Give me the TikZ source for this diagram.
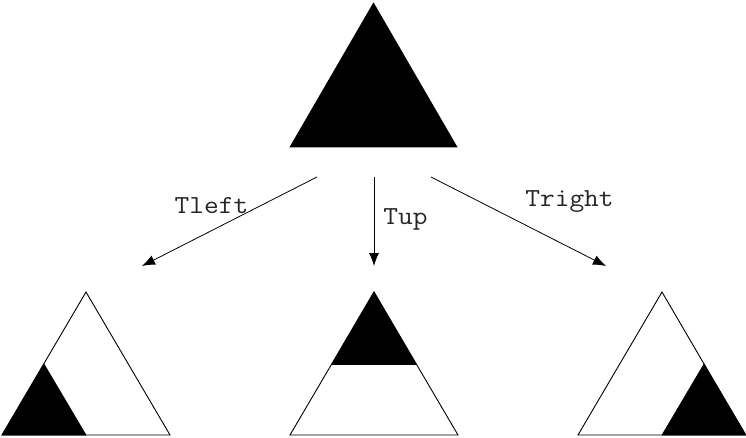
\documentclass[tikz,border=0pt]{standalone}
\usepackage{fontspec}
\usetikzlibrary{arrows.meta}
\newcommand{\mylbl}[1]{\scalebox{1.1}[1]{#1}}
\begin{document}
\begin{tikzpicture}[x=1pt,y=-1pt,
  tri/.style={draw=black,line width=0.9pt,line join=miter},
  blk/.style={fill=black,draw=black,line width=0.6pt},
  conn/.style={line width=0.8pt,-{Latex[length=13pt,width=10pt]}},
  lbl/.style={font=\ttfamily\fontsize{26}{26}\selectfont,anchor=base,inner sep=0pt,text=black!85}]
\useasboundingbox (0,0) rectangle (746,438);
% top triangle
\fill[blk] (373.5,3) -- (457,147) -- (290,147) -- cycle;
% left bottom
\fill[blk] (44,364) -- (86,435) -- (2,435) -- cycle;
\draw[tri] (86,292) -- (170,435) -- (2,435) -- cycle;
% middle bottom
\fill[blk] (374,292) -- (416,364) -- (332,364) -- cycle;
\draw[tri] (374,292) -- (458,435) -- (290,435) -- cycle;
\draw[tri] (332,364) -- (416,364);
% right bottom
\fill[blk] (704,364) -- (746,435) -- (662,435) -- cycle;
\draw[tri] (662,292) -- (745.5,435) -- (578,435) -- cycle;
% connectors
\coordinate (sl) at (317,177);
\coordinate (el) at (142,266);
\coordinate (sm) at (374,177);
\coordinate (em) at (374,266);
\coordinate (sr) at (431,177);
\coordinate (er) at (606,266);
\draw[conn] (sl) -- (el);
\draw[conn] (sm) -- (em);
\draw[conn] (sr) -- (er);
\node[lbl] (tl) at (211.5,214) {\mylbl{Tleft}};
\node[lbl] (tu) at (405.5,225) {\mylbl{Tup}};
\node[lbl] (tr) at (569.5,207) {\mylbl{Tright}};
\end{tikzpicture}
\end{document}
